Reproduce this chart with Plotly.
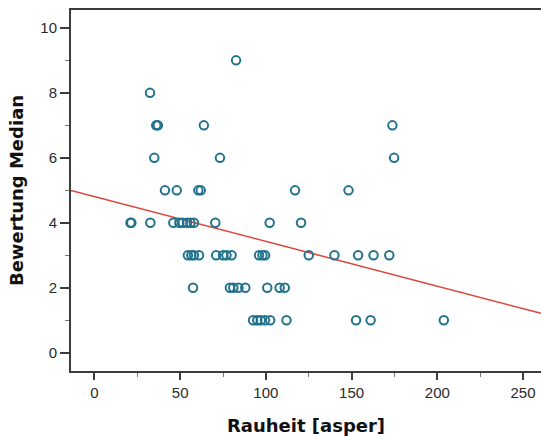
import plotly.graph_objects as go

# Data
rauheit = [
    82.6,                                   # 9
    32.4,                                   # 8
    36.0, 37.0, 63.8, 173.8,                # 7
    34.9, 73.2, 174.8,                      # 6
    41.1, 48.0, 60.6, 62.0, 117.0, 148.2,   # 5
    21.0, 21.5, 32.6, 46.0, 49.5, 51.5, 54.0, 56.0, 58.0, 70.5, 102.2, 120.5,  # 4
    54.5, 56.5, 58.0, 61.0, 71.0, 75.0, 77.0, 80.0, 96.0, 98.0, 99.5,
    125.0, 140.0, 153.8, 162.8, 172.0,      # 3
    57.5, 79.0, 81.0, 84.0, 88.0, 100.8, 108.0, 111.0,  # 2
    92.5, 95.0, 97.0, 99.5, 102.5, 112.0, 152.6, 161.1, 203.8,  # 1
]
bewertung = (
    [9] + [8] + [7] * 4 + [6] * 3 + [5] * 6 + [4] * 12 + [3] * 16 + [2] * 8 + [1] * 9
)

fit_intercept = 4.81
fit_slope = -0.0138

x_range = [-13.7, 260.5]
y_range = [-0.56, 10.55]

fit_x = x_range
fit_y = [fit_intercept + fit_slope * v for v in fit_x]

fig = go.Figure()
fig.add_trace(go.Scatter(
    x=fit_x, y=fit_y, mode="lines",
    line=dict(color="#d9463c", width=1.5),
    hoverinfo="skip", showlegend=False,
))
fig.add_trace(go.Scatter(
    x=rauheit, y=bewertung, mode="markers",
    marker=dict(symbol="circle-open", size=8.5, color="#21728f",
                line=dict(width=2, color="#21728f")),
    showlegend=False,
))

axis_color = "#3c3c3c"
fig.update_layout(
    width=541, height=436,
    margin=dict(l=71, r=0, t=10, b=65),
    paper_bgcolor="white", plot_bgcolor="white",
    font=dict(family="Liberation Sans, Arial, sans-serif", size=15, color="#2a2a2a"),
    xaxis=dict(
        range=x_range, showgrid=False, zeroline=False,
        showline=True, linewidth=2, linecolor=axis_color, mirror=True,
        tickmode="array", tickvals=[0, 50, 100, 150, 200, 250],
        ticktext=["0", "50", "100", "150", "200", "250"],
        ticks="outside", ticklen=7, tickwidth=2, tickcolor=axis_color,
        minor=dict(tickvals=[25, 75, 125, 175, 225], ticks="outside",
                   ticklen=4, tickwidth=1, tickcolor="#777777"),
        title=dict(text="<b>Rauheit [asper]</b>",
                   font=dict(family="DejaVu Sans, sans-serif", size=18, color="#111111"),
                   standoff=19),
    ),
    yaxis=dict(
        range=y_range, showgrid=False, zeroline=False,
        showline=True, linewidth=2, linecolor=axis_color, mirror=False,
        tickmode="array", tickvals=[0, 2, 4, 6, 8, 10],
        ticktext=["0", "2", "4", "6", "8", "10"],
        ticks="outside", ticklen=9, tickwidth=2, tickcolor=axis_color,
        minor=dict(tickvals=[1, 3, 5, 7, 9], ticks="outside",
                   ticklen=4, tickwidth=1, tickcolor="#777777"),
        title=dict(text="<b>Bewertung Median</b>",
                   font=dict(family="DejaVu Sans, sans-serif", size=18, color="#111111"),
                   standoff=12),
    ),
)

fig.write_html("out.html")
